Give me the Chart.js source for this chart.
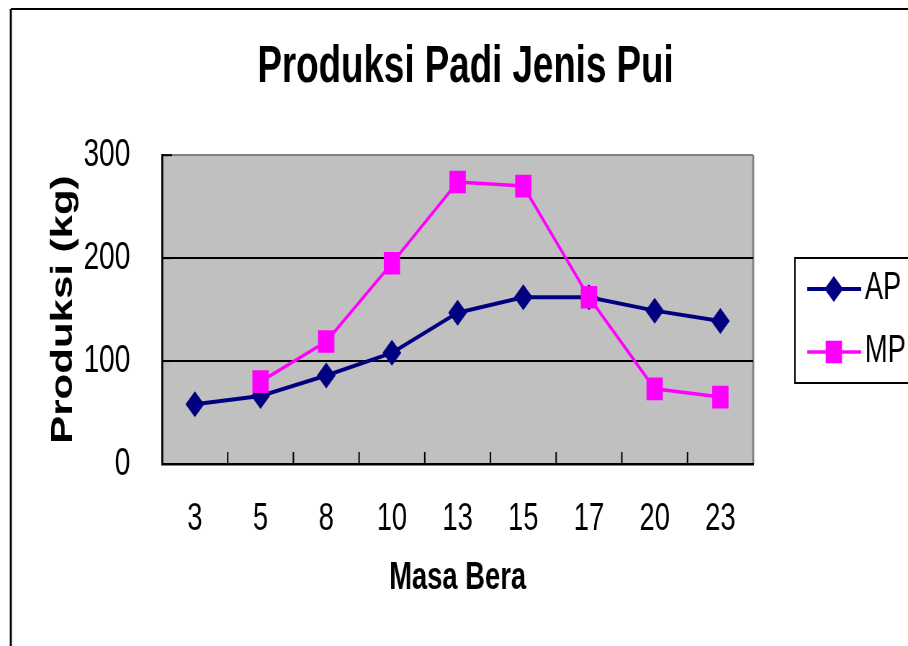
<!DOCTYPE html>
<html>
<head>
<meta charset="utf-8">
<script src="https://cdn.jsdelivr.net/npm/chart.js@4.4.1/dist/chart.umd.min.js"></script>
<style>
  html, body { margin: 0; padding: 0; background: #fff; overflow: hidden; }
  #myChart { display: block; }
</style>
</head>
<body>
<!-- the reference is squeezed sideways, so draw wide and let CSS squeeze it -->
<canvas id="myChart" width="1261" height="646" style="width:908px;height:646px"></canvas>
<script>
var masaBera = ["3", "5", "8", "10", "13", "15", "17", "20", "23"];
var apValues = [58, 66, 86, 108, 147, 162, 162, 149, 139];
var mpValues = [null, 80, 119, 195, 274, 270, 162, 73, 65];
var yTickValues = [0, 100, 200, 300];

var apColor = "#000080";
var mpColor = "#ff00ff";

Chart.defaults.font.family = '"Liberation Sans", Arial, sans-serif';
Chart.defaults.font.size = 38;
Chart.defaults.color = "#000";

function marker(ctx, style, r, x, y) {
    ctx.beginPath();
    if (style === "rectRot") {
        ctx.moveTo(x - r, y);
        ctx.lineTo(x, y - r);
        ctx.lineTo(x + r, y);
        ctx.lineTo(x, y + r);
    } else {
        var s = r * Math.SQRT1_2;
        ctx.rect(x - s, y - s, 2 * s, 2 * s);
    }
    ctx.closePath();
    ctx.fill();
}

var plotDecor = {
    id: "plotDecor",
    beforeDraw: function (chart) {
        var ctx = chart.ctx, a = chart.chartArea;
        ctx.save();
        ctx.fillStyle = "#fff";
        ctx.fillRect(0, 0, chart.width, chart.height);
        // outer frame (left and top only are visible)
        ctx.strokeStyle = "#000";
        ctx.lineWidth = 2.8;
        ctx.beginPath();
        ctx.moveTo(15, 9);
        ctx.lineTo(15, chart.height);
        ctx.stroke();
        ctx.lineWidth = 2;
        ctx.beginPath();
        ctx.moveTo(15, 9);
        ctx.lineTo(chart.width, 9);
        ctx.stroke();
        // grey plot area
        ctx.fillStyle = "#c0c0c0";
        ctx.fillRect(a.left, a.top, a.right - a.left, a.bottom - a.top);
        ctx.strokeStyle = "#808080";
        ctx.lineWidth = 2.8;
        ctx.beginPath();
        ctx.moveTo(a.right, a.top);
        ctx.lineTo(a.right, a.bottom);
        ctx.stroke();
        ctx.restore();
    },
    beforeDatasetsDraw: function (chart) {
        var ctx = chart.ctx, a = chart.chartArea;
        var xs = chart.scales.x, ys = chart.scales.y;
        ctx.save();
        ctx.strokeStyle = "#000";
        ctx.lineWidth = 2;
        // tick marks pointing into the plot
        for (var i = 0; i < masaBera.length - 1; i++) {
            var px = (xs.getPixelForValue(i) + xs.getPixelForValue(i + 1)) / 2;
            ctx.beginPath();
            ctx.moveTo(px, a.bottom);
            ctx.lineTo(px, a.bottom - 12);
            ctx.stroke();
        }
        yTickValues.forEach(function (v) {
            var py = ys.getPixelForValue(v);
            ctx.beginPath();
            ctx.moveTo(a.left, py);
            ctx.lineTo(a.left + 14, py);
            ctx.stroke();
        });
        ctx.restore();
    },
    afterDraw: function (chart) {
        var ctx = chart.ctx;
        ctx.save();
        ctx.strokeStyle = "#000";
        ctx.lineWidth = 2;
        ctx.strokeRect(1104, 258, 220, 125);
        var rows = [289, 352];
        chart.data.datasets.forEach(function (ds, i) {
            var y = rows[i];
            ctx.strokeStyle = ds.borderColor;
            ctx.fillStyle = ds.borderColor;
            ctx.lineWidth = ds.borderWidth;
            ctx.beginPath();
            ctx.moveTo(1121, y);
            ctx.lineTo(1196, y);
            ctx.stroke();
            marker(ctx, ds.pointStyle, ds.pointRadius, 1158, y);
            ctx.fillStyle = "#000";
            ctx.font = '38px "Liberation Sans", Arial, sans-serif';
            ctx.textBaseline = "middle";
            ctx.fillText(ds.label, 1201, y);
        });
        ctx.restore();
    }
};

new Chart("myChart", {
    type: "line",
    data: {
        labels: masaBera,
        datasets: [{
            label: "AP",
            data: apValues,
            borderColor: apColor,
            backgroundColor: apColor,
            borderWidth: 4,
            pointStyle: "rectRot",
            pointRadius: 13,
            pointBorderWidth: 0,
            tension: 0,
            order: 2,
            xAxisID: "x",
            yAxisID: "y"
        }, {
            label: "MP",
            data: mpValues,
            borderColor: mpColor,
            backgroundColor: mpColor,
            borderWidth: 3.5,
            pointStyle: "rect",
            pointRadius: 16,
            pointBorderWidth: 0,
            tension: 0,
            order: 1,
            xAxisID: "x",
            yAxisID: "y"
        }]
    },
    options: {
        responsive: false,
        animation: false,
        devicePixelRatio: 1,
        layout: { padding: { left: 32, right: 0, top: 0, bottom: 0 } },
        plugins: {
            legend: { display: false },
            tooltip: { enabled: false },
            title: {
                display: true,
                text: "Produksi Padi Jenis Pui",
                color: "#000",
                font: { size: 51, weight: "bold" },
                padding: { top: 37, bottom: 57 }
            }
        },
        scales: {
            x: {
                type: "category",
                offset: true,
                grid: { display: false, drawTicks: false },
                border: { display: true, color: "#000", width: 2.5 },
                ticks: { padding: 33, font: { size: 38 }, maxRotation: 0, autoSkip: false },
                title: {
                    display: true,
                    text: "Masa Bera",
                    font: { size: 38, weight: "bold" },
                    padding: { top: 0, bottom: 45 }
                },
                afterFit: function (s) { s.height = 182; }
            },
            y: {
                position: "left",
                min: 0,
                max: 300,
                ticks: { stepSize: 100, padding: 44, font: { size: 39 } },
                grid: {
                    drawTicks: false,
                    lineWidth: 2,
                    color: function (c) { return c.tick && c.tick.value === 300 ? "#808080" : "#000"; }
                },
                border: { display: true, color: "#000", width: 2.8 },
                title: {
                    display: true,
                    text: "Produksi (kg)",
                    font: { size: 42, weight: "bold" },
                    padding: { top: 31, bottom: 0 }
                },
                afterFit: function (s) { s.width = 193; }
            },
            legendSpace: {
                type: "linear",
                position: "right",
                display: true,
                ticks: { display: false },
                grid: { display: false },
                border: { display: false },
                afterFit: function (s) { s.width = 215; }
            }
        }
    },
    plugins: [plotDecor]
});
</script>
</body>
</html>
